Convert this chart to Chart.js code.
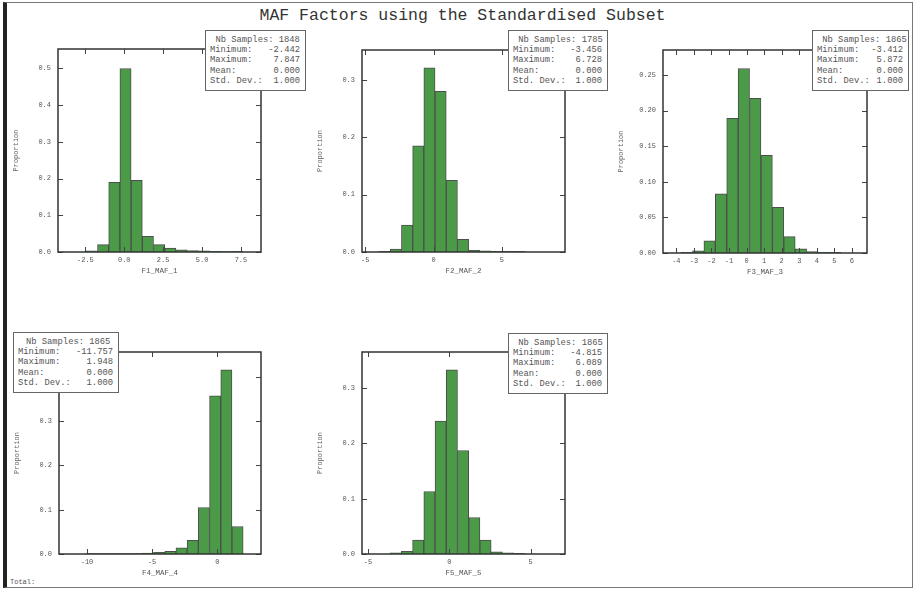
<!DOCTYPE html>
<html>
<head>
<meta charset="utf-8">
<script src="https://cdn.jsdelivr.net/npm/chart.js@4/dist/chart.umd.min.js"></script>
<style>
  html, body { margin: 0; padding: 0; background: #fff; }
  #page { position: relative; width: 913px; height: 594px; overflow: hidden; background: #fff; font-family: "Liberation Mono", "DejaVu Sans Mono", monospace; }
  #frame { position: absolute; left: 3px; top: 2px; width: 905px; height: 584px; border: 1px solid #777; border-left: 4px solid #222; }
  #title { position: absolute; left: 0; width: 925px; top: 6px; text-align: center; font-size: 16.5px; color: #333; }
  #total { position: absolute; left: 10px; top: 578px; font-size: 7px; color: #555; }
  .panel { position: absolute; }
  .stats { position: absolute; background: #fff; border: 1px solid #666; box-sizing: border-box; height: 61px; padding: 4px 5px 0 4px; font-size: 8.8px; line-height: 10.2px; color: #555; }
  .stats .row { display: flex; justify-content: space-between; white-space: pre; }
  .stats .head { text-align: center; white-space: pre; }
</style>
</head>
<body>
<div id="page">
  <div id="frame"></div>
  <div id="title">MAF Factors using the Standardised Subset</div>
  <div id="total">Total:</div>
</div>
<script>
// histogram bin centres and proportions, one pair per factor
const f1Bins   = [-2.08, -1.36, -0.64, 0.08, 0.80, 1.52, 2.24, 2.96, 3.68, 4.40, 5.12, 5.84, 6.56, 7.28];
const f1Values = [0.003, 0.020, 0.190, 0.500, 0.195, 0.043, 0.020, 0.011, 0.006, 0.004, 0.003, 0.002, 0.001, 0.002];
const f2Bins   = [-3.58, -2.76, -1.94, -1.12, -0.30, 0.52, 1.34, 2.16, 2.98, 3.80, 4.62, 5.44, 6.26];
const f2Values = [0.001, 0.005, 0.047, 0.185, 0.321, 0.280, 0.125, 0.022, 0.003, 0.002, 0.001, 0.001, 0.001];
const f3Bins   = [-3.405, -2.755, -2.105, -1.455, -0.805, -0.155, 0.495, 1.145, 1.795, 2.445, 3.095, 3.745, 4.395, 5.045];
const f3Values = [0.001, 0.003, 0.017, 0.083, 0.189, 0.259, 0.217, 0.137, 0.064, 0.023, 0.006, 0.002, 0.001, 0.001];
const f4Bins   = [-9.62, -8.76, -7.90, -7.04, -6.18, -5.32, -4.46, -3.60, -2.74, -1.88, -1.02, -0.16, 0.70, 1.56];
const f4Values = [0.001, 0.001, 0.001, 0.001, 0.001, 0.002, 0.004, 0.006, 0.014, 0.031, 0.105, 0.357, 0.416, 0.062];
const f5Bins   = [-3.295, -2.605, -1.915, -1.225, -0.535, 0.155, 0.845, 1.535, 2.225, 2.915, 3.605, 4.295];
const f5Values = [0.002, 0.005, 0.025, 0.113, 0.240, 0.333, 0.187, 0.066, 0.025, 0.004, 0.002, 0.001];

// tick labels
const f1XTicks = ['-2.5', '0.0', '2.5', '5.0', '7.5'];
const f1YTicks = ['0.0', '0.1', '0.2', '0.3', '0.4', '0.5'];
const f2XTicks = ['-5', '0', '5'];
const f2YTicks = ['0.0', '0.1', '0.2', '0.3'];
const f3XTicks = ['-4', '-3', '-2', '-1', '0', '1', '2', '3', '4', '5', '6'];
const f3YTicks = ['0.00', '0.05', '0.10', '0.15', '0.20', '0.25'];
const f4XTicks = ['-10', '-5', '0'];
const f4YTicks = ['0.0', '0.1', '0.2', '0.3', '0.4'];
const f5XTicks = ['-5', '0', '5'];
const f5YTicks = ['0.0', '0.1', '0.2', '0.3'];

// summary boxes
const statLabels = ['Minimum:', 'Maximum:', 'Mean:', 'Std. Dev.:'];
const f1Stats = ['1848', '-2.442', '7.847', '0.000', '1.000'];
const f2Stats = ['1785', '-3.456', '6.728', '0.000', '1.000'];
const f3Stats = ['1865', '-3.412', '5.872', '0.000', '1.000'];
const f4Stats = ['1865', '-11.757', '1.948', '0.000', '1.000'];
const f5Stats = ['1865', '-4.815', '6.089', '0.000', '1.000'];

const MONO = '"Liberation Mono", "DejaVu Sans Mono", monospace';
const PAD_L = 52, PAD_T = 6, PAD_R = 8, PAD_B = 24;

// box around the plot area with inward ticks on all four sides
const boxTicks = {
  id: 'boxTicks',
  afterDatasetsDraw(chart) {
    const { ctx, chartArea: a, scales: { x, y } } = chart;
    ctx.save();
    ctx.strokeStyle = '#444';
    ctx.lineWidth = 1;
    ctx.beginPath();
    x.ticks.forEach(t => {
      const px = Math.round(x.getPixelForValue(t.value)) + 0.5;
      ctx.moveTo(px, a.bottom); ctx.lineTo(px, a.bottom - 5);
      ctx.moveTo(px, a.top); ctx.lineTo(px, a.top + 5);
    });
    y.ticks.forEach(t => {
      const py = Math.round(y.getPixelForValue(t.value)) + 0.5;
      ctx.moveTo(a.left, py); ctx.lineTo(a.left + 5, py);
      ctx.moveTo(a.right, py); ctx.lineTo(a.right - 5, py);
    });
    ctx.stroke();
    ctx.lineWidth = 1.5;
    ctx.strokeStyle = '#333';
    ctx.strokeRect(a.left, a.top, a.width, a.height);
    ctx.restore();
  }
};

function makePanel(p) {
  const div = document.createElement('div');
  div.className = 'panel';
  div.style.left = (p.left - PAD_L) + 'px';
  div.style.top = (p.top - PAD_T) + 'px';
  div.style.width = (p.w + PAD_L + PAD_R) + 'px';
  div.style.height = (p.h + PAD_T + PAD_B) + 'px';
  const canvas = document.createElement('canvas');
  div.appendChild(canvas);
  document.getElementById('page').appendChild(div);

  new Chart(canvas, {
    type: 'bar',
    data: {
      datasets: [{
        data: p.bins.map((b, i) => ({ x: b, y: p.values[i] })),
        backgroundColor: '#4a9a48',
        borderColor: '#4d4d4d',
        borderWidth: 1,
        barPercentage: 1,
        categoryPercentage: 1
      }]
    },
    options: {
      responsive: true,
      maintainAspectRatio: false,
      animation: false,
      layout: { padding: { left: 0, top: PAD_T, right: PAD_R, bottom: 0 } },
      plugins: { legend: { display: false }, tooltip: { enabled: false } },
      scales: {
        x: {
          type: 'linear',
          offset: false,
          min: p.xMin,
          max: p.xMax,
          grid: { display: false, drawTicks: false, offset: false },
          border: { display: false },
          afterBuildTicks: s => { s.ticks = p.xTicks.map(v => ({ value: parseFloat(v) })); },
          afterFit: s => { s.height = PAD_B; s.paddingLeft = 0; s.paddingRight = 0; },
          ticks: {
            autoSkip: false, maxRotation: 0, padding: 4,
            color: '#555', font: { family: MONO, size: 7 },
            callback: (v, i) => p.xTicks[i]
          },
          title: {
            display: true, text: p.xTitle, color: '#555',
            font: { family: MONO, size: 7.5 }, padding: { top: 0, bottom: 0 }
          }
        },
        y: {
          min: 0,
          max: p.yMax,
          grid: { display: false, drawTicks: false },
          border: { display: false },
          afterBuildTicks: s => { s.ticks = p.yTicks.map(v => ({ value: parseFloat(v) })); },
          afterFit: s => { s.width = PAD_L; s.paddingTop = 0; s.paddingBottom = 0; },
          ticks: {
            autoSkip: false, padding: 7,
            color: '#555', font: { family: MONO, size: 7 },
            callback: (v, i) => p.yTicks[i]
          },
          title: {
            display: true, text: 'Proportion', color: '#666',
            font: { family: MONO, size: 7 }, padding: { top: 6, bottom: 0 }
          }
        }
      }
    },
    plugins: [boxTicks]
  });

  // statistics box drawn over the plot corner
  const box = document.createElement('div');
  box.className = 'stats';
  box.style.left = p.box[0] + 'px';
  box.style.top = p.box[1] + 'px';
  box.style.width = p.box[2] + 'px';
  let html = '<div class="head"> Nb Samples: ' + p.stats[0] + '</div>';
  statLabels.forEach((l, i) => {
    html += '<div class="row"><span>' + l + '</span><span>' + p.stats[i + 1] + '</span></div>';
  });
  box.innerHTML = html;
  document.getElementById('page').appendChild(box);
}

makePanel({ bins: f1Bins, values: f1Values, xTicks: f1XTicks, yTicks: f1YTicks, xTitle: 'F1_MAF_1', stats: f1Stats,
  left: 58, top: 49, w: 203, h: 203, xMin: -4.26, xMax: 8.79, yMax: 0.553, box: [205, 30, 101] });
makePanel({ bins: f2Bins, values: f2Values, xTicks: f2XTicks, yTicks: f2YTicks, xTitle: 'F2_MAF_2', stats: f2Stats,
  left: 362, top: 50, w: 203, h: 202, xMin: -5.24, xMax: 9.63, yMax: 0.352, box: [508, 30, 100] });
makePanel({ bins: f3Bins, values: f3Values, xTicks: f3XTicks, yTicks: f3YTicks, xTitle: 'F3_MAF_3', stats: f3Stats,
  left: 663, top: 50, w: 204, h: 203, xMin: -4.76, xMax: 6.86, yMax: 0.285, box: [812, 30, 97] });
makePanel({ bins: f4Bins, values: f4Values, xTicks: f4XTicks, yTicks: f4YTicks, xTitle: 'F4_MAF_4', stats: f4Stats,
  left: 59, top: 352, w: 202, h: 202, xMin: -12.15, xMax: 3.36, yMax: 0.456, box: [13, 332, 106] });
makePanel({ bins: f5Bins, values: f5Values, xTicks: f5XTicks, yTicks: f5YTicks, xTitle: 'F5_MAF_5', stats: f5Stats,
  left: 362, top: 352, w: 203, h: 202, xMin: -5.37, xMax: 7.11, yMax: 0.365, box: [508, 333, 100] });
</script>
</body>
</html>
